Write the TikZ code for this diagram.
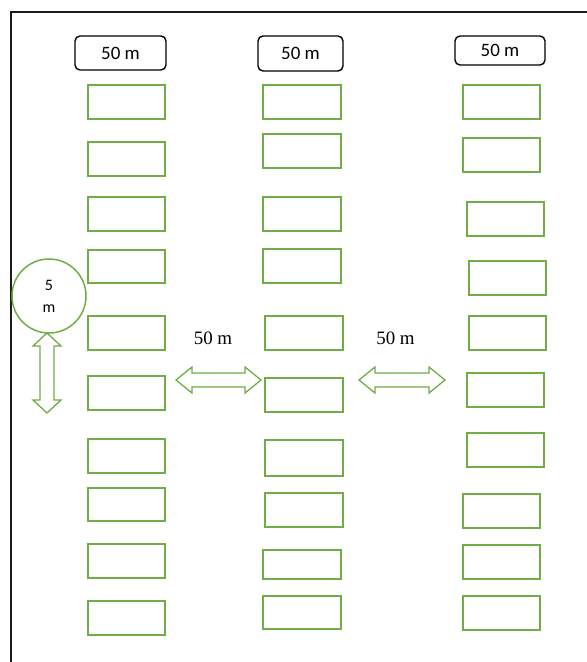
\documentclass[tikz,border=0pt]{standalone}
\usepackage{fontspec}
\setmainfont{Liberation Serif}
\newfontfamily\labelfont{Carlito}
\usetikzlibrary{calc}

\definecolor{plotgreen}{HTML}{70AD47}
\definecolor{framegray}{HTML}{1A1A1A}

\tikzset{
  plotbox/.style={draw=plotgreen, line width=1.7bp, fill=white, inner sep=0pt},
  tagbox/.style={draw=black, line width=1.4bp, rounded corners=5bp, inner sep=0pt,
    font=\labelfont\fontsize{19}{22}\selectfont},
  gap/.style={font=\fontsize{19}{22}\selectfont, inner sep=0pt},
  spacing/.style={draw=plotgreen, line width=1.3bp, fill=white, line join=miter},
  plotcircle/.style={draw=plotgreen, line width=1.5bp, circle, inner sep=0pt,
    minimum size=74bp, align=center, font=\labelfont\fontsize{16}{22}\selectfont},
  border/.style={draw=framegray, line width=1.6bp}
}

% \plot{name}{left}{top}{right}{bottom}: one plot rectangle
\newcommand\plotrect[5]{%
  \node[plotbox, minimum width={(#4-#2)*1bp}, minimum height={(#5-#3)*1bp}]
    (#1) at ({(#2+#4)/2},{(#3+#5)/2}) {};}
% \tagrect{name}{left}{top}{right}{bottom}{text}: a rounded heading box
\newcommand\tagrect[6]{%
  \node[tagbox, minimum width={(#4-#2)*1bp}, minimum height={(#5-#3)*1bp}]
    (#1) at ({(#2+#4)/2},{(#3+#5)/2}) {#6};}

\begin{document}
\begin{tikzpicture}[x=1bp, y=-1bp]
\useasboundingbox (0,0) rectangle (587,662);

% outer frame: top and left edges
\coordinate (frameTL) at (11,12);
\coordinate (frameTR) at (587,12);
\coordinate (frameBL) at (11,662);
\draw[border] (frameTR) -- (frameTL) -- (frameBL);

% column headings
\tagrect{headA}{75}{36}{166}{70}{50 m}
\tagrect{headB}{258}{36}{343}{71}{50 m}
\tagrect{headC}{455}{36}{545}{65}{50 m}

% first column of plots
\plotrect{a1}{88}{85}{165}{119}
\plotrect{a2}{88}{142}{165}{176}
\plotrect{a3}{88}{197}{165}{231}
\plotrect{a4}{88}{250}{165}{283}
\plotrect{a5}{88}{316}{165}{350}
\plotrect{a6}{88}{376}{165}{410}
\plotrect{a7}{88}{439}{165}{473}
\plotrect{a8}{88}{488}{165}{521}
\plotrect{a9}{88}{544}{165}{578}
\plotrect{a10}{88}{601}{165}{635}

% second column of plots
\plotrect{b1}{263}{85}{341}{119}
\plotrect{b2}{263}{134}{341}{168}
\plotrect{b3}{263}{197}{341}{231}
\plotrect{b4}{263}{249}{341}{283}
\plotrect{b5}{265}{316}{343}{350}
\plotrect{b6}{265}{378}{343}{412}
\plotrect{b7}{265}{440}{343}{476}
\plotrect{b8}{265}{493}{343}{527}
\plotrect{b9}{263}{550}{341}{579}
\plotrect{b10}{263}{596}{341}{629}

% third column of plots
\plotrect{c1}{463}{85}{540}{119}
\plotrect{c2}{463}{138}{540}{172}
\plotrect{c3}{467}{202}{544}{236}
\plotrect{c4}{469}{261}{546}{295}
\plotrect{c5}{469}{316}{546}{350}
\plotrect{c6}{467}{373}{544}{407}
\plotrect{c7}{467}{433}{544}{467}
\plotrect{c8}{463}{494}{540}{528}
\plotrect{c9}{463}{545}{540}{579}
\plotrect{c10}{463}{596}{540}{630}

% plot radius marker
\node[plotcircle] (radius) at (49,296) {5\\m};

% vertical spacing arrow below the circle
\draw[spacing] (47,333) -- (61,346) -- (54,346) -- (54,400) -- (61,400)
  -- (47,413) -- (33,400) -- (40,400) -- (40,346) -- (33,346) -- cycle;

% spacing between columns
\draw[spacing] (176,380) -- (192,367) -- (192,373) -- (245,373) -- (245,367)
  -- (261,380) -- (245,393) -- (245,387) -- (192,387) -- (192,393) -- cycle;
\draw[spacing] (359,380) -- (375,367) -- (375,373) -- (429,373) -- (429,367)
  -- (445,380) -- (429,393) -- (429,387) -- (375,387) -- (375,393) -- cycle;

\node[gap] (gapAB) at (213,338) {50 m};
\node[gap] (gapBC) at (395.5,338) {50 m};
\end{tikzpicture}
\end{document}
